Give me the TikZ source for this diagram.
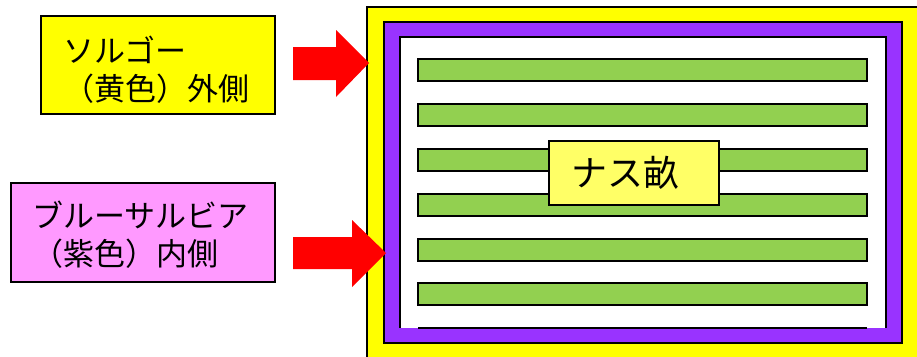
\documentclass[tikz,border=0pt]{standalone}
\usepackage{fontspec}
\setmainfont{Noto Sans CJK JP}
\definecolor{fieldyellow}{HTML}{FFFF00}
\definecolor{bedpurple}{HTML}{9933FF}
\definecolor{bedgreen}{HTML}{92D050}
\definecolor{labelpink}{HTML}{FF99FF}
\definecolor{nasuyellow}{HTML}{FFFF66}
\definecolor{arrowred}{HTML}{FF0000}
\begin{document}
\begin{tikzpicture}[x=1pt,y=-1pt,line join=miter,
  bar/.style={draw=black,line width=2.5pt,fill=bedgreen},
  edge/.style={draw=black,line width=2.5pt},
  labelbox/.style={draw=black,line width=2.5pt,align=left,inner ysep=0pt,
    font=\fontsize{31}{38}\selectfont},
  redarrow/.style={fill=arrowred}]
\useasboundingbox (0,0) rectangle (917,356);
% outer yellow field border
\begin{scope}
  \clip (0,0) rectangle (917,356);
  \fill[fieldyellow] (367,7) rectangle (940,380);
  \draw[line width=2pt] (367,380) -- (367,7) -- (940,7);
\end{scope}
% purple band
\draw[edge,fill=bedpurple] (384,22) rectangle (902,343);
% white inner area
\fill[white] (400,37) rectangle (886,328);
\draw[edge] (400,328) -- (400,37) -- (886,37) -- (886,328);
% green beds
\foreach \t in {59,104,149,194,239,283}
  \draw[bar] (418,\t) rectangle (867,\t+22);
\draw[edge] (418,328) -- (867,328);
% nasu label
\node[draw=black,line width=2.5pt,fill=nasuyellow,minimum width=170pt,
  minimum height=64pt,inner sep=0pt,font=\fontsize{36}{40}\selectfont]
  (nasu) at (634,173) {\hspace*{-18pt}ナス畝};
% side labels
\node[labelbox,fill=fieldyellow,text width=190pt,inner xsep=22pt,minimum height=98pt]
  (sorgo) at (158,65) {\rule{0pt}{35pt}ソルゴー\\（黄色）外側};
\node[labelbox,fill=labelpink,text width=222pt,inner xsep=21pt,minimum height=99pt]
  (salvia) at (143,232.5) {\rule{0pt}{31pt}ブルーサルビア\\（紫色）内側};
% arrows
\fill[redarrow] (293,47) -- (336,47) -- (336,30) -- (369,63) -- (336,97)
  -- (336,80) -- (293,80) -- cycle;
\fill[redarrow] (293,237) -- (352,237) -- (352,220) -- (386,253) -- (352,287)
  -- (352,269) -- (293,269) -- cycle;
\end{tikzpicture}
\end{document}
